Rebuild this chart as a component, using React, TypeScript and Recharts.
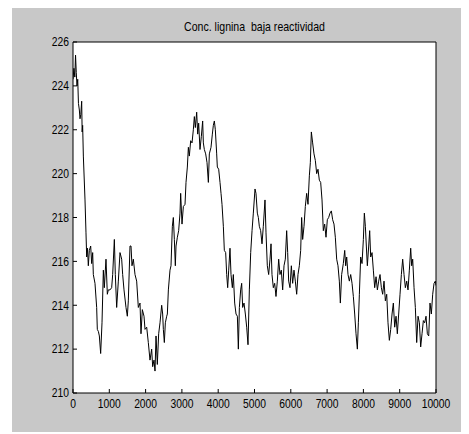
import React from 'react';
import { LineChart, Line, XAxis, YAxis, CartesianGrid } from 'recharts';

const xs = [
  0, 25, 50, 70, 90, 110, 130, 150, 175, 193, 215, 239, 252, 266, 285, 331, 358, 377, 400, 422,
  450, 487, 514, 542, 560, 606, 652, 670, 700, 726, 762, 799, 836, 863, 909, 946, 973, 1019, 1065, 1093,
  1139, 1166, 1203, 1249, 1295, 1341, 1368, 1405, 1460, 1497, 1524, 1570, 1598, 1625, 1662, 1708, 1754, 1800, 1846, 1873,
  1910, 1956, 1984, 2030, 2075, 2121, 2167, 2195, 2231, 2259, 2287, 2323, 2360, 2397, 2443, 2470, 2489, 2516, 2544, 2581,
  2599, 2627, 2672, 2700, 2737, 2764, 2792, 2819, 2838, 2875, 2911, 2948, 2966, 3003, 3040, 3086, 3113, 3150, 3178, 3205,
  3242, 3279, 3315, 3343, 3370, 3407, 3435, 3462, 3499, 3536, 3572, 3591, 3618, 3655, 3692, 3729, 3756, 3802, 3839, 3866,
  3894, 3921, 3958, 3976, 4013, 4050, 4078, 4105, 4142, 4169, 4206, 4234, 4261, 4289, 4325, 4353, 4390, 4417, 4454, 4491,
  4528, 4555, 4583, 4619, 4647, 4674, 4711, 4748, 4785, 4821, 4858, 4895, 4932, 4968, 5014, 5041, 5078, 5106, 5133, 5170,
  5207, 5243, 5289, 5317, 5353, 5390, 5427, 5455, 5482, 5519, 5556, 5592, 5629, 5666, 5702, 5739, 5776, 5813, 5849, 5886,
  5914, 5941, 5978, 6015, 6051, 6088, 6125, 6162, 6198, 6235, 6272, 6299, 6327, 6364, 6400, 6437, 6474, 6511, 6538, 6566,
  6602, 6639, 6676, 6713, 6749, 6786, 6823, 6860, 6896, 6933, 6970, 7006, 7043, 7080, 7117, 7153, 7190, 7227, 7264, 7300,
  7337, 7365, 7401, 7447, 7485, 7512, 7540, 7576, 7613, 7650, 7687, 7723, 7760, 7797, 7834, 7861, 7889, 7925, 7962, 7999,
  8026, 8054, 8081, 8109, 8146, 8173, 8201, 8238, 8274, 8311, 8348, 8385, 8421, 8458, 8495, 8531, 8568, 8605, 8642, 8678,
  8715, 8752, 8789, 8825, 8862, 8899, 8935, 8972, 9009, 9046, 9082, 9119, 9156, 9193, 9229, 9266, 9303, 9330, 9358, 9395,
  9431, 9468, 9505, 9542, 9578, 9615, 9652, 9688, 9725, 9762, 9799, 9835, 9872, 9909, 9946, 9982, 10000,
];

const ys = [
  224.3, 224.8, 224.4, 225.4, 224.6, 224.0, 224.3, 223.2, 222.9, 222.5, 222.7, 223.3, 221.9, 222.2, 220.8, 218.8, 217.3, 216.2, 216.6, 215.8,
  216.5, 216.7, 215.9, 216.4, 215.4, 215.0, 213.9, 212.9, 212.8, 212.6, 211.8, 213.2, 215.6, 214.8, 216.1, 214.5, 214.7, 214.7, 214.8, 215.4,
  217.0, 215.4, 213.9, 215.1, 216.4, 216.1, 215.4, 214.7, 213.9, 213.5, 214.2, 216.7, 216.7, 215.8, 216.1, 215.4, 215.1, 213.9, 214.1, 212.7,
  213.8, 213.5, 212.9, 213.0, 212.3, 211.5, 212.0, 211.2, 211.5, 211.0, 212.6, 211.3, 212.7, 213.2, 214.0, 213.6, 212.9, 212.3, 213.2, 213.5,
  213.6, 214.7, 215.6, 215.8, 217.6, 218.0, 217.0, 215.8, 216.7, 217.1, 217.4, 218.2, 219.1, 217.7, 218.5, 218.6, 219.6, 220.3, 221.2, 220.8,
  221.5, 221.4, 222.0, 222.6, 222.1, 222.8, 221.8, 222.3, 221.1, 221.7, 222.4, 221.4, 221.1, 220.9, 220.5, 219.6, 220.9, 221.2, 221.8, 222.2,
  222.4, 222.0, 220.9, 220.3, 220.2, 219.6, 219.1, 218.6, 217.6, 216.5, 216.4, 215.4, 214.8, 215.6, 216.6, 215.4, 214.8, 215.4, 214.1, 213.6,
  213.5, 212.0, 213.9, 214.7, 215.0, 213.9, 214.1, 213.6, 213.0, 212.2, 214.7, 216.4, 217.4, 218.2, 219.3, 219.1, 218.2, 218.0, 217.6, 217.4,
  216.8, 217.6, 218.8, 217.3, 215.8, 215.4, 216.1, 216.8, 215.4, 214.8, 215.0, 214.4, 215.1, 216.1, 215.4, 215.6, 214.7, 215.8, 216.1, 217.4,
  216.4, 215.1, 214.8, 215.8, 215.0, 215.6, 215.1, 214.5, 215.4, 215.8, 216.5, 218.0, 217.0, 217.6, 218.5, 219.1, 218.6, 219.9, 220.5, 221.9,
  221.4, 220.9, 220.6, 220.0, 220.2, 219.7, 219.6, 218.8, 217.4, 217.7, 217.1, 217.9, 218.0, 218.2, 218.3, 217.9, 217.7, 217.1, 216.1, 215.8,
  215.1, 214.1, 215.4, 215.9, 216.5, 215.8, 216.2, 215.4, 215.1, 215.4, 215.0, 214.4, 213.6, 212.7, 212.0, 213.2, 214.5, 216.2, 215.9, 217.0,
  218.2, 217.6, 216.7, 215.8, 216.7, 217.4, 216.2, 216.4, 215.6, 214.8, 215.3, 214.7, 215.1, 215.4, 214.8, 214.5, 215.1, 214.2, 214.5, 213.2,
  212.4, 212.9, 213.6, 214.1, 213.0, 213.5, 212.7, 213.6, 214.5, 215.4, 216.1, 215.4, 214.8, 215.1, 214.7, 215.6, 216.6, 215.8, 216.1, 214.8,
  213.9, 212.3, 213.5, 213.2, 212.1, 212.7, 213.3, 213.2, 213.5, 212.7, 212.6, 214.1, 213.6, 214.5, 215.0, 215.1, 214.9,
];

const xTicks = [0, 1000, 2000, 3000, 4000, 5000, 6000, 7000, 8000, 9000, 10000];
const yTicks = [210, 212, 214, 216, 218, 220, 222, 224, 226];
const title = 'Conc. lignina  baja reactividad';

const data = xs.map((x, i) => ({ x, y: ys[i] }));

const FONT = '"Liberation Sans", Arial, sans-serif';
const SQUEEZE = 0.86;
const black = { stroke: '#000', strokeWidth: 1 };

const XTick = (props: any) => {
  const { x, y, payload } = props;
  return (
    <text
      x={0}
      y={0}
      dy="0.71em"
      transform={`translate(${x},${y}) scale(${SQUEEZE},1)`}
      textAnchor="middle"
      fontFamily={FONT}
      fontSize={12}
      fill="#000"
    >
      {payload.value}
    </text>
  );
};

const YTick = (props: any) => {
  const { x, y, payload } = props;
  return (
    <text
      x={0}
      y={0}
      dy="0.355em"
      transform={`translate(${x},${y}) scale(${SQUEEZE},1)`}
      textAnchor="end"
      fontFamily={FONT}
      fontSize={12}
      fill="#000"
    >
      {payload.value}
    </text>
  );
};

export default function App() {
  return (
    <div style={{ position: 'relative', marginLeft: 4, width: 457, height: 424, background: '#c8c8c8' }}>
      <LineChart width={457} height={424} data={data} margin={{ top: 33, right: 32, left: 0, bottom: 0 }}>
        <CartesianGrid horizontal={false} vertical={false} fill="#ffffff" fillOpacity={1} />
        <XAxis
          dataKey="x"
          type="number"
          domain={[0, 10000]}
          ticks={xTicks}
          interval={0}
          height={39}
          tickSize={-4}
          tickMargin={10}
          axisLine={black}
          tickLine={black}
          tick={<XTick />}
          allowDataOverflow
        />
        <XAxis
          xAxisId="top"
          orientation="top"
          dataKey="x"
          type="number"
          domain={[0, 10000]}
          ticks={xTicks}
          interval={0}
          height={1}
          tickSize={-4}
          axisLine={black}
          tickLine={black}
          tick={false}
          allowDataOverflow
        />
        <YAxis
          type="number"
          domain={[210, 226]}
          ticks={yTicks}
          interval={0}
          width={61}
          tickSize={-4}
          tickMargin={8}
          axisLine={black}
          tickLine={black}
          tick={<YTick />}
          allowDataOverflow
        />
        <YAxis
          yAxisId="right"
          orientation="right"
          type="number"
          domain={[210, 226]}
          ticks={yTicks}
          interval={0}
          width={1}
          tickSize={-4}
          axisLine={black}
          tickLine={black}
          tick={false}
          allowDataOverflow
        />
        <Line
          dataKey="y"
          type="linear"
          stroke="#000"
          strokeWidth={1}
          dot={false}
          isAnimationActive={false}
        />
      </LineChart>
      <svg style={{ position: 'absolute', left: 0, top: 0, pointerEvents: 'none' }} width={457} height={40}>
        <text
          x={0}
          y={0}
          transform={`translate(242.5,23) scale(0.88,1)`}
          textAnchor="middle"
          fontFamily={FONT}
          fontSize={12}
          fill="#000"
          style={{ whiteSpace: 'pre' }}
        >
          {title}
        </text>
      </svg>
    </div>
  );
}
